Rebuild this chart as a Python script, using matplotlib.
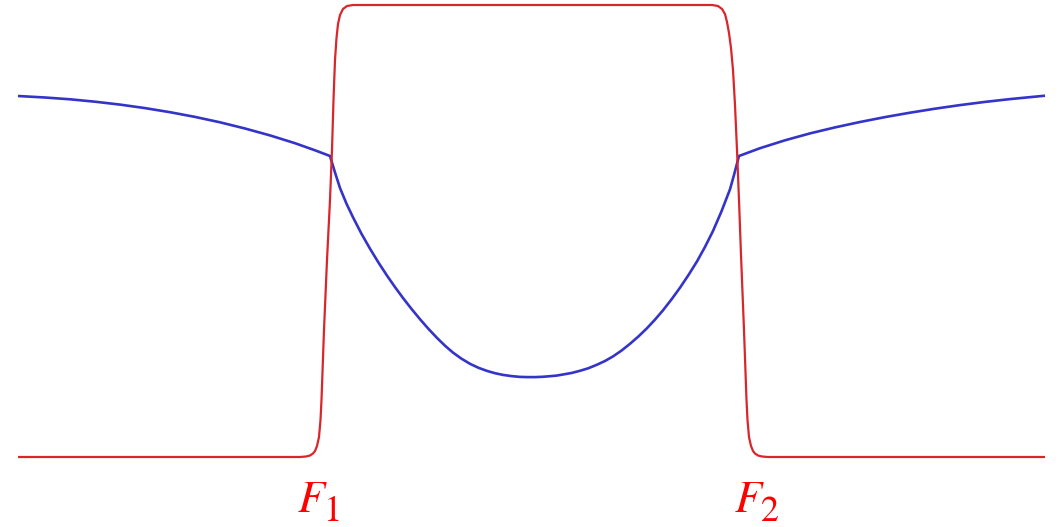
import matplotlib
matplotlib.use("Agg")
import matplotlib.pyplot as plt

# Red curve: filter response (x = frequency position, y = pixel-read height)
red_x = [18, 300, 306, 310, 313, 315, 317, 319, 320.5, 321.5, 324, 327, 330, 332,
         333.5, 335, 336.5, 338, 340, 343, 347, 353,
         712, 718, 722, 725, 727, 729, 731, 733, 735, 737, 739, 741, 744, 746.5,
         747.5, 749, 751, 753, 755, 758, 762, 768, 1045]
red_py = [457, 457, 456.5, 455.5, 453.5, 451, 446, 437, 420, 400, 330, 260, 200, 150,
          100, 60, 38, 24, 15, 9, 6, 5,
          5, 6, 9, 14, 22, 33, 48, 70, 105, 150, 200, 255, 330, 400,
          420, 437, 446, 451, 453.5, 455.5, 456.5, 457, 457]

# Blue curve
blue_x = [18, 45, 70, 95, 120, 145, 170, 195, 220, 245, 270, 295, 315, 330,
          335, 340, 346.5, 353, 361.5, 370, 378.5, 387, 395, 403, 411.5, 420, 428.5,
          437, 445, 453, 461.5, 470, 478.5, 487, 495, 503, 511.5, 520, 527.5, 535,
          542.5, 550, 556.5, 563, 571.5, 580, 588.5, 597, 605, 613, 621.5, 630, 638.5,
          647, 655, 663, 671.5, 680, 688.5, 697, 705, 713, 721.5, 730, 734, 739,
          760, 785, 810, 835, 860, 885, 910, 935, 960, 985, 1010, 1045]
blue_py = [96, 97.5, 99.3, 101.7, 104.6, 108.1, 112.2, 116.9, 122.3, 128.5, 135.4, 143.2,
           150.3, 156,
           172.5, 188, 203.7, 217.3, 233.8, 248.7, 262.6, 275.6, 287.1, 298, 308.9, 319.2,
           328.9, 337.9, 345.7, 352.6, 358.7, 363.8, 367.8, 370.9, 373.2, 374.9, 376.1,
           376.9, 377.1, 377.1,
           376.8, 376.2, 375.6, 374.5, 373.0, 370.8, 368.2, 364.7, 361.0, 356.4, 350.6,
           343.8, 336.4, 328.2, 319.6, 310.3, 299.4, 287.7, 275.0, 261.4, 246.9, 231,
           211.3, 189.3, 175, 156,
           148.2, 140.3, 133.4, 127.4, 122, 117.1, 112.7, 108.7, 105.1, 101.9, 99.1, 95.7]

label_main = ["F", "F"]
label_sub = ["1", "2"]
label_x = [300, 737]

BASE = 457
red_y = [BASE - v for v in red_py]
blue_y = [BASE - v for v in blue_py]

W, H = 1064, 527
fig = plt.figure(figsize=(W / 100, H / 100), dpi=100)
ax = fig.add_axes([18 / W, (H - 457) / H, (1045 - 18) / W, (457 - 5) / H])
ax.set_xlim(18, 1045)
ax.set_ylim(0, 452)
ax.axis("off")

ax.plot(blue_x, blue_y, color="#3434c8", lw=1.9, clip_on=False,
        solid_joinstyle="round", solid_capstyle="butt")
ax.plot(red_x, red_y, color="#d8262a", lw=1.6, clip_on=False,
        solid_joinstyle="round", solid_capstyle="butt")

for lx, m, s in zip(label_x, label_main, label_sub):
    ax.text(lx - 2, BASE - 512, m, color="#ff0000", fontsize=32,
            family="STIXGeneral", style="italic",
            ha="left", va="baseline", clip_on=False)
    ax.text(lx + 24, BASE - 521, s, color="#ff0000", fontsize=26,
            family="STIXGeneral",
            ha="left", va="baseline", clip_on=False)

fig.savefig("out.png", dpi=100, facecolor="white")
